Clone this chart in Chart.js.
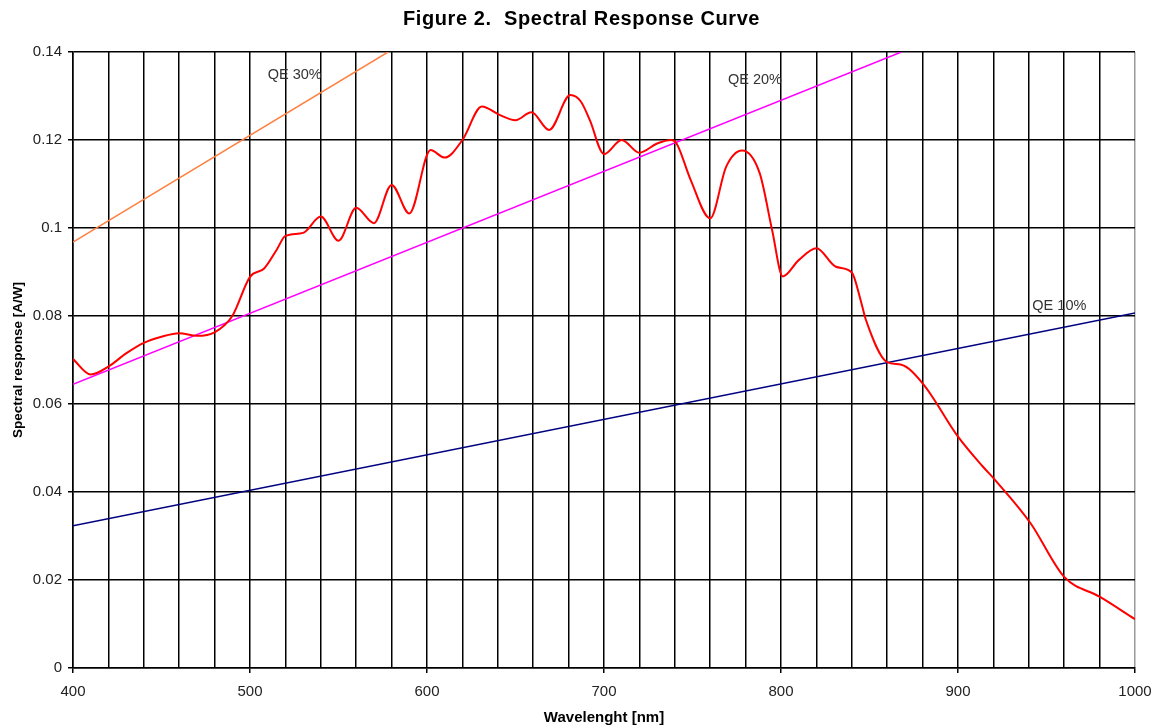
<!DOCTYPE html>
<html>
<head>
<meta charset="utf-8">
<script src="https://cdn.jsdelivr.net/npm/chart.js@4"></script>
<style>
  html, body { margin: 0; padding: 0; background: #fff; }
  #wrap { width: 1157px; height: 728px; }
</style>
</head>
<body>
<div id="wrap"><canvas id="chart" width="1157" height="728"></canvas></div>
<script>
// values
const wavelength = [400, 410, 420, 430, 440, 450, 460, 470, 480, 490, 500, 508, 515, 520, 530,
  540, 550, 560, 570, 580, 590, 602, 610, 620, 631, 641, 650, 659, 669, 681, 687, 692,
  700, 710, 720, 730, 738, 741, 749, 760, 769, 778, 788, 795, 801, 810, 820, 831, 840,
  845, 848, 860, 868, 880, 900, 914, 921, 941, 960, 980, 1000];
const response = [0.0702, 0.0667, 0.0685, 0.0715, 0.0739, 0.0753, 0.0761, 0.0755, 0.0763, 0.0800,
  0.0889, 0.0908, 0.0950, 0.0982, 0.0989, 0.1026, 0.0971, 0.1046, 0.1011, 0.1098, 0.1033,
  0.1177, 0.1160, 0.1200, 0.1276, 0.1257, 0.1245, 0.1263, 0.1223, 0.1302, 0.1287, 0.1245,
  0.1168, 0.1200, 0.1171, 0.1192, 0.1200, 0.1192, 0.1109, 0.1022, 0.1139, 0.1176, 0.1124,
  0.0995, 0.0890, 0.0927, 0.0954, 0.0912, 0.0899, 0.0836, 0.0791, 0.0695, 0.0689, 0.0647,
  0.0526, 0.0458, 0.0427, 0.0329, 0.0207, 0.0162, 0.0111];

// QE reference lines, end points
const qe30X = [400, 578];
const qe30Y = [0.0968, 0.14];
const qe20X = [400, 868];
const qe20Y = [0.0645, 0.14];
const qe10X = [400, 1000];
const qe10Y = [0.0323, 0.0807];

const qeLabels = ["QE 30%", "QE 20%", "QE 10%"];
const qeLabelX = [510, 770, 942];
const qeLabelY = [0.1348, 0.1336, 0.0823];

const titleText = "Figure 2.  Spectral Response Curve";

const toPoints = (xs, ys) => xs.map((x, i) => ({ x: x, y: ys[i] }));

const FONT = "'Liberation Sans', Arial, sans-serif";

// title and QE labels drawn on the canvas
const textPlugin = {
  id: "figText",
  afterDraw(chart) {
    const { ctx, scales } = chart;
    ctx.save();
    ctx.fillStyle = "#000";
    ctx.font = "bold 20px " + FONT;
    ctx.letterSpacing = "0.6px";
    ctx.textAlign = "center";
    ctx.textBaseline = "middle";
    ctx.fillText(titleText, chart.width / 2 + 3, 19);

    ctx.letterSpacing = "0px";
    ctx.font = "14.5px " + FONT;
    ctx.fillStyle = "#333";
    ctx.textAlign = "left";
    qeLabels.forEach((t, i) => {
      ctx.fillText(t, scales.x.getPixelForValue(qeLabelX[i]), scales.y.getPixelForValue(qeLabelY[i]));
    });
    ctx.restore();
  }
};

new Chart(document.getElementById("chart").getContext("2d"), {
  type: "line",
  data: {
    datasets: [
      {
        label: "Spectral response",
        data: toPoints(wavelength, response),
        borderColor: "#ff0000",
        borderWidth: 2,
        pointRadius: 0,
        cubicInterpolationMode: "monotone",
      },
      {
        label: "QE 30%",
        data: toPoints(qe30X, qe30Y),
        borderColor: "#ff8040",
        borderWidth: 1.5,
        pointRadius: 0,
      },
      {
        label: "QE 20%",
        data: toPoints(qe20X, qe20Y),
        borderColor: "#ff00ff",
        borderWidth: 1.5,
        pointRadius: 0,
      },
      {
        label: "QE 10%",
        data: toPoints(qe10X, qe10Y),
        borderColor: "#000080",
        borderWidth: 1.5,
        pointRadius: 0,
      },
    ],
  },
  plugins: [textPlugin],
  options: {
    responsive: false,
    animation: false,
    layout: { padding: { left: 0, right: 22, top: 52, bottom: 0 } },
    plugins: {
      legend: { display: false },
      tooltip: { enabled: false },
      title: { display: false },
    },
    scales: {
      x: {
        type: "linear",
        min: 400,
        max: 1000,
        afterFit(scale) {
          scale.height = 60;
          scale.paddingLeft = 0;
          scale.paddingRight = 0;
        },
        ticks: {
          stepSize: 20,
          autoSkip: false,
          maxRotation: 0,
          padding: 10,
          color: "#222",
          font: { family: FONT, size: 15 },
          callback: (v) => (v % 100 === 0 ? v : ""),
        },
        grid: {
          color: (c) => (c.tick && c.tick.value === 1000 ? "#999" : "#000"),
          lineWidth: 1.5,
          tickLength: 5,
          tickColor: (c) => (c.tick && c.tick.value % 100 === 0 ? "#000" : "rgba(0,0,0,0)"),
        },
        border: { color: "#000", width: 1.5 },
        title: {
          display: true,
          text: "Wavelenght [nm]",
          color: "#000",
          font: { family: FONT, size: 15, weight: "bold" },
          padding: { top: 0, bottom: 1 },
        },
      },
      y: {
        min: 0,
        max: 0.14,
        afterFit(scale) { scale.width = 73; },
        ticks: {
          stepSize: 0.02,
          padding: 6,
          color: "#222",
          font: { family: FONT, size: 15 },
          callback: (v) => Math.round(v * 100) / 100,
        },
        grid: {
          color: "#000",
          lineWidth: 1.5,
          tickLength: 5,
          tickColor: "#000",
        },
        border: { color: "#000", width: 1.5 },
        title: {
          display: true,
          text: "Spectral response [A/W]",
          color: "#000",
          font: { family: FONT, size: 13.5, weight: "bold" },
          padding: { top: 10, bottom: 0 },
        },
      },
    },
  },
});
</script>
</body>
</html>
